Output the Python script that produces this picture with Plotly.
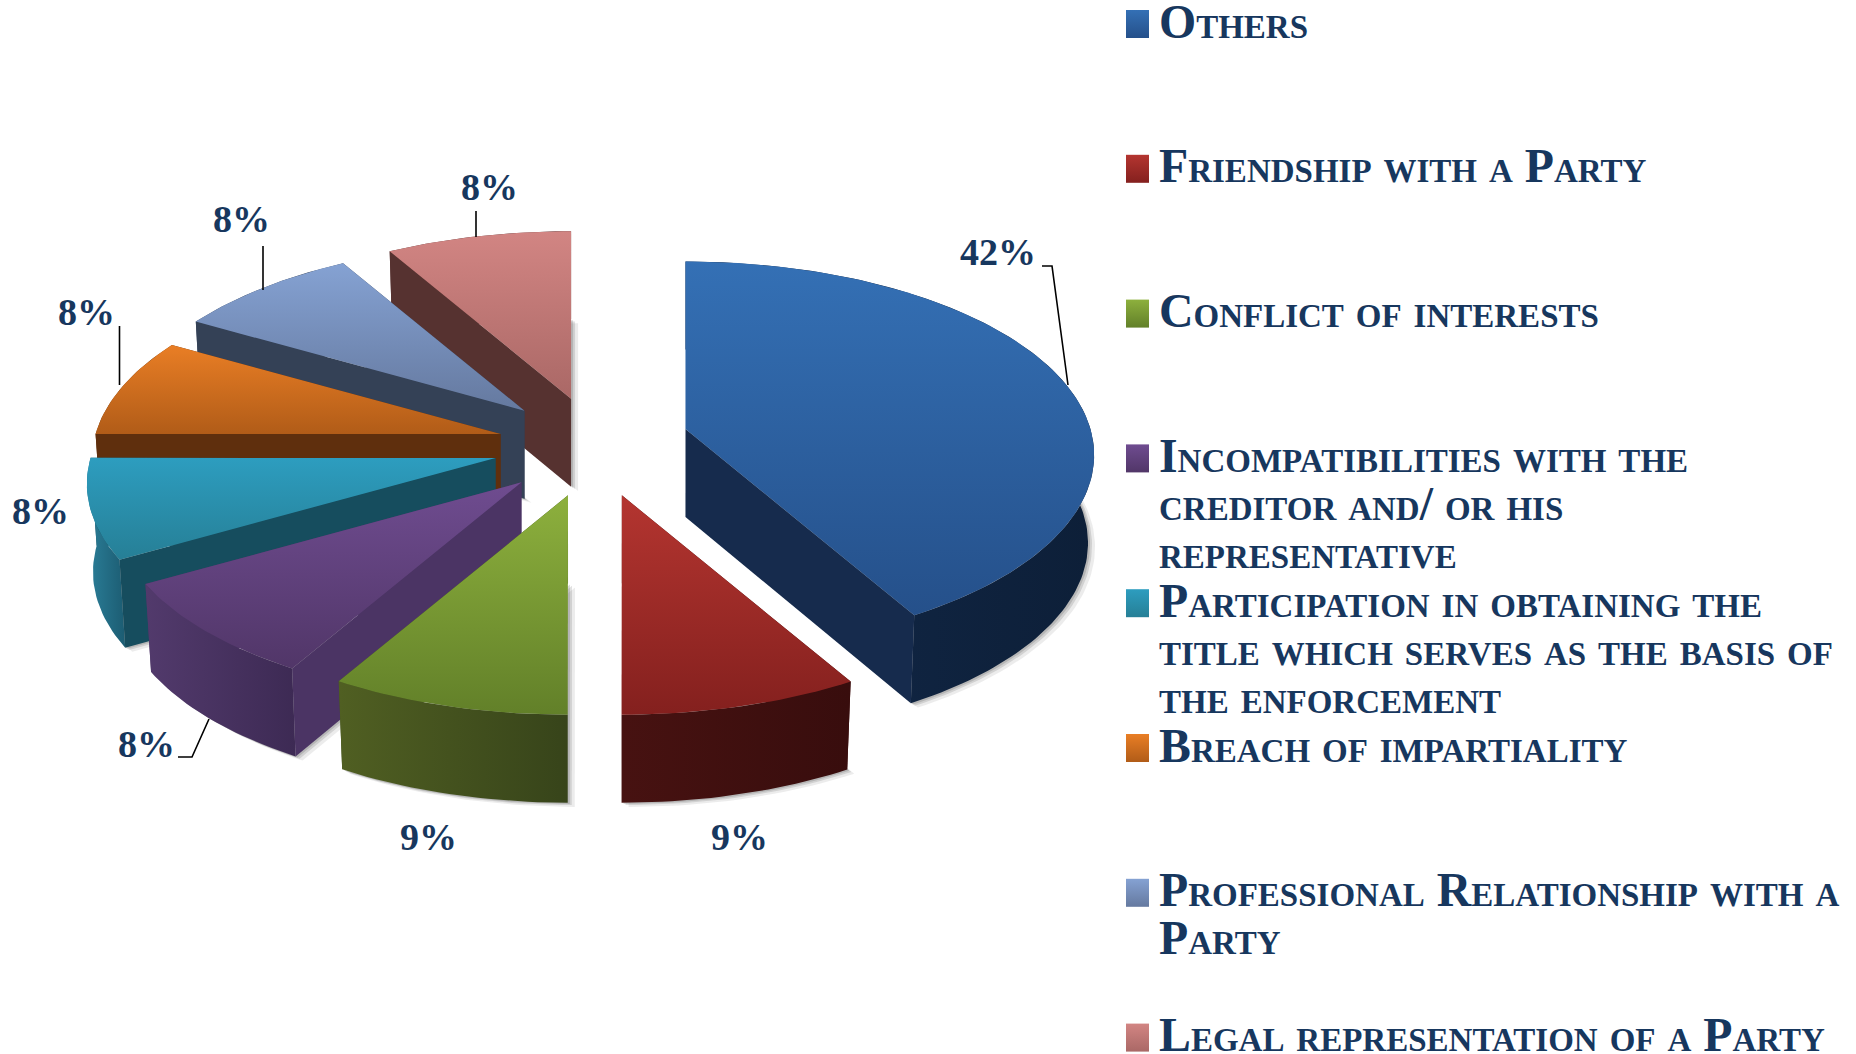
import math
import plotly.graph_objects as go

# ---- data -------------------------------------------------------------
categories = ["Others", "Friendship with a Party", "Conflict of interests",
              "Incompatibilities with the creditor and/ or his representative",
              "Participation in obtaining the title which serves as the basis of the enforcement",
              "Breach of impartiality", "Professional Relationship with a Party",
              "Legal representation of a Party"]
legend_lines = [["Others"], ["Friendship with a Party"], ["Conflict of interests"],
                ["Incompatibilities with the", "creditor and/ or his", "representative"],
                ["Participation in obtaining the", "title which serves as the basis of", "the enforcement"],
                ["Breach of impartiality"], ["Professional Relationship with a", "Party"],
                ["Legal representation of a Party"]]
# slice sizes as drawn (angles) and the printed labels
values = [41.67, 8.33, 8.33, 8.33, 8.33, 8.33, 8.33, 8.33]
labels = ["42%", "9%", "9%", "8%", "8%", "8%", "8%", "8%"]

top_light = ["#3470b5", "#b43530", "#8db03d", "#6f4c90", "#2d9dbf", "#e97e25", "#85a2d3", "#d28583"]
top_dark = ["#25508a", "#84201e", "#628029", "#513668", "#267f96", "#b15c18", "#65799f", "#aa6866"]
cut_col = ["#162b4d", "#43100f", "#3f4f1c", "#4b3464", "#164d5e", "#5f2f0d", "#344156", "#563230"]
rim_l = ["#12294a", "#471211", "#505f22", "#523a6c", "#2b7f99", "#6a3610", "#3a4860", "#5d3634"]
rim_d = ["#0d1f38", "#380d0d", "#37441a", "#3d2a54", "#1c5c72", "#5a2c0c", "#303c50", "#503030"]

label_pos = [(998, 252), (739, 837), (428, 837), (146, 744), (40, 511), (86, 312), (241, 219), (489, 187)]
leaders = [[(1042, 266), (1052, 266), (1068, 385)], None, None,
           [(178, 757), (192, 757), (209, 719)], None,
           [(119.5, 326), (119.5, 385)],
           [(263, 246), (263, 290)], [(476, 211), (476, 237)]]

# ---- projection of the tilted pie ---------------------------------------
CX, CY, RX, RY, PERSP = 595, 447, 405, 190, 0.134
EXX, EXY, DEPTH, BOTTOM_SHRINK = 104, 50, 88, 0.985
# small per-slice explode corrections
nudge = [(-10, -5), (0, 0), (0, 0), (0, 0), (1, -2), (6, 0), (3, -1), (3, 0)]
total = sum(values)


def project(theta):
    t = -math.cos(theta)
    s = 1 / (1 - PERSP * t)
    return RX * math.sin(theta) * s, RY * t * s


fig = go.Figure()


def poly(pts, c1, c2=None, vertical=True, width=0.0, lc=None):
    xs = [p[0] for p in pts] + [pts[0][0]]
    ys = [p[1] for p in pts] + [pts[0][1]]
    kw = dict(x=xs, y=ys, mode="lines", fill="toself", hoverinfo="skip", showlegend=False,
              line=dict(width=width, color=lc or c1))
    if c2 is None:
        kw["fillcolor"] = c1
    else:
        vals = ys if vertical else xs
        kw["fillgradient"] = dict(type="vertical" if vertical else "horizontal",
                                  colorscale=[[0, c1], [1, c2]], start=min(vals), stop=max(vals))
    fig.add_trace(go.Scatter(**kw))


wedges = []
cum = 0
for i, v in enumerate(values):
    a0 = cum / total * 2 * math.pi
    cum += v
    a1 = cum / total * 2 * math.pi
    m = (a0 + a1) / 2
    ax = CX + EXX * math.sin(m) + nudge[i][0]
    ay = CY - EXY * math.cos(m) + nudge[i][1]
    n = max(8, int(v * 3))
    arc = []
    for k in range(n + 1):
        th = a0 + (a1 - a0) * k / n
        dx, dy = project(th)
        arc.append((ax + dx, ay + dy))
    wedges.append(dict(i=i, depth=-math.cos(m), apex=(ax, ay), arc=arc))


def lower(p, ax):
    return (ax + (p[0] - ax) * BOTTOM_SHRINK, p[1] + DEPTH)


# soft shadows under the slabs
for w in wedges:
    ax = w["apex"][0]
    sil = [lower(w["apex"], ax)] + [lower(p, ax) for p in w["arc"]]
    for off, alpha in ((7, 0.10), (4, 0.16), (2, 0.2)):
        poly([(x + off, y + off * 0.6) for x, y in sil], f"rgba(70,70,70,{alpha})")


def visible(edge, mid, apex):
    ex, ey = edge[0] - apex[0], edge[1] - apex[1]
    if abs(ex) < 1e-6:
        return False
    line_y = apex[1] + ey * (mid[0] - apex[0]) / ex
    return mid[1] < line_y


for w in sorted(wedges, key=lambda q: q["depth"]):
    i, apex, arc = w["i"], w["apex"], w["arc"]
    ax = apex[0]
    mid = arc[len(arc) // 2]
    faces = []
    for edge in (arc[0], arc[-1]):
        faces.append(([apex, edge, lower(edge, ax), lower(apex, ax)], visible(edge, mid, apex)))
    for q, vis in faces:
        if not vis:
            poly(q, cut_col[i])
    rim = arc + [lower(p, ax) for p in reversed(arc)]
    poly(rim, rim_l[i], rim_d[i], vertical=False)
    for q, vis in faces:
        if vis:
            poly(q, cut_col[i])
    poly([apex] + arc, top_light[i], top_dark[i])

# leader lines
for seg in leaders:
    if seg:
        fig.add_trace(go.Scatter(x=[p[0] for p in seg], y=[p[1] for p in seg], mode="lines",
                                 line=dict(color="#000000", width=1.6), hoverinfo="skip", showlegend=False))

NAVY = "#17375e"
SERIF = "Liberation Serif"
annos = []
for lab, (x, y) in zip(labels, label_pos):
    annos.append(dict(x=x, y=y, text=f"<b>{lab}</b>", showarrow=False, xanchor="center", yanchor="middle",
                      font=dict(family=SERIF, size=38, color=NAVY)))

# legend
LEG_Y0, LEG_STEP, LINE_STEP = 24, 144.8, 48
for i, lines in enumerate(legend_lines):
    y = LEG_Y0 + LEG_STEP * i
    poly([(1126, y - 14), (1149, y - 14), (1149, y + 14), (1126, y + 14)], top_light[i], top_dark[i])
    for j, line in enumerate(lines):
        annos.append(dict(x=1157, y=y + j * LINE_STEP - 3, text=f"<b>{line}</b>", showarrow=False,
                          xanchor="left", yanchor="middle",
                          font=dict(family=SERIF, size=47.8, color=NAVY, variant="small-caps")))

fig.update_layout(width=1856, height=1054, margin=dict(l=0, r=0, t=0, b=0),
                  paper_bgcolor="white", plot_bgcolor="white", showlegend=False, annotations=annos,
                  xaxis=dict(range=[0, 1856], visible=False, fixedrange=True),
                  yaxis=dict(range=[1054, 0], visible=False, fixedrange=True))
fig.write_html("out.html", config=dict(displayModeBar=False),
               post_script="document.body.style.margin='0';")
